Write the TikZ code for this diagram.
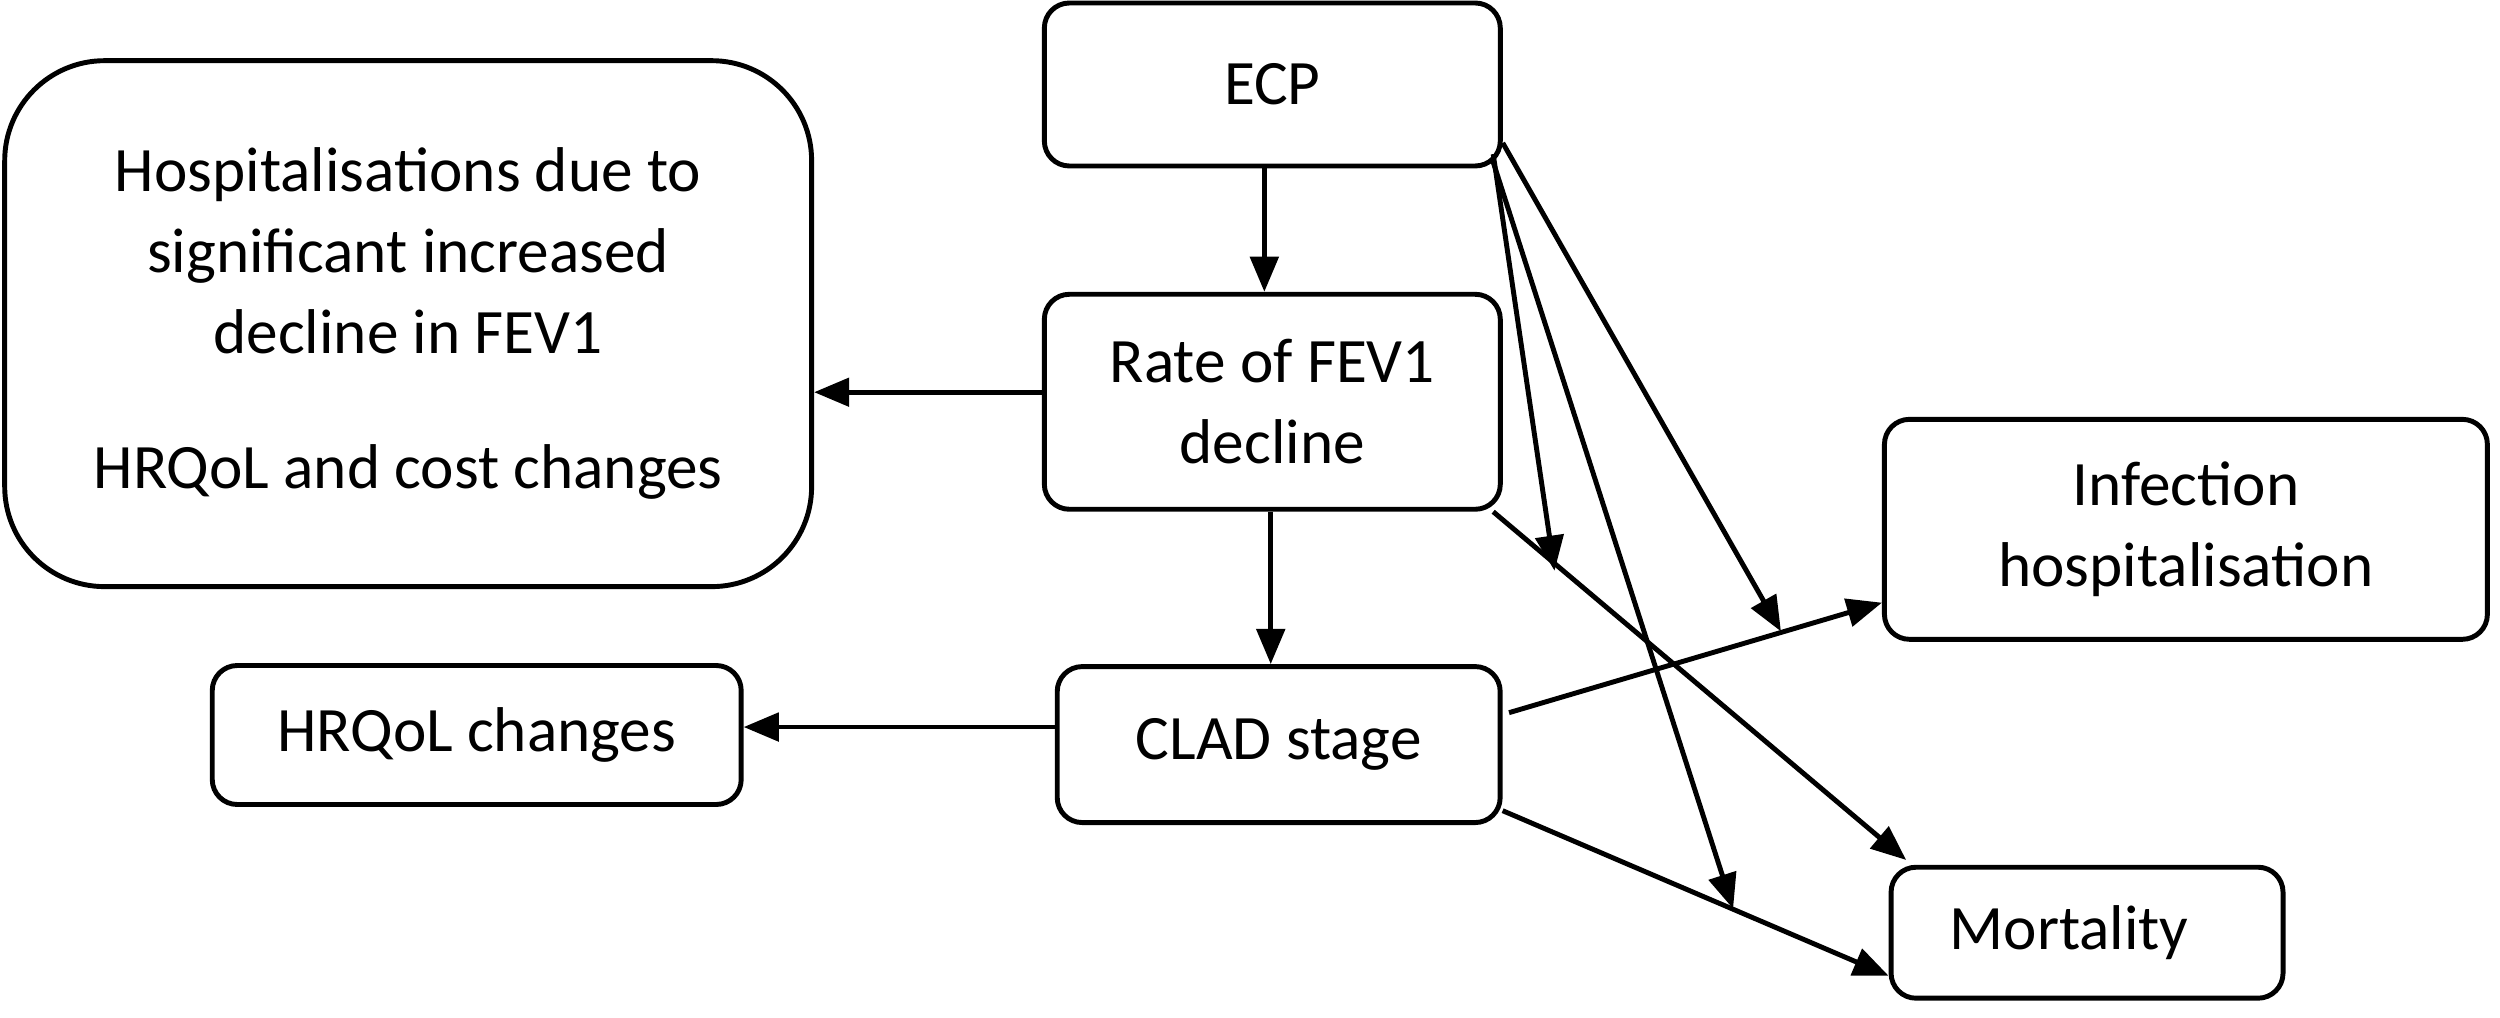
\documentclass[tikz,border=0pt]{standalone}
\usepackage{fontspec}
\setmainfont{Carlito}
\usetikzlibrary{arrows.meta,positioning,calc}

\begin{document}
\begin{tikzpicture}[x=0.01594cm, y=-0.01594cm,
        box/.style={rectangle, draw, line width=1.4pt, rounded corners=0.25cm, align=center,
                    font=\fontsize{18}{23}\selectfont},
        link/.style={-{Triangle[length=10pt,width=8pt]}, line width=1.4pt}
      ]
        \useasboundingbox (0,0) rectangle (1568,638);
        % boxes
        \node[box, minimum width=4.56cm, minimum height=1.63cm] (ecp) at (798,53) {ECP};
        \node[box, minimum width=8.07cm, minimum height=5.26cm, rounded corners=1cm] (hosp) at (256,203)
            {Hospitalisations due to\\significant increased\\decline in FEV1\\[0.55cm]HRQoL and cost changes};
        \node[box, minimum width=4.56cm, minimum height=2.15cm] (rate) at (798,252) {Rate of FEV1\\decline};
        \node[box, minimum width=6.03cm, minimum height=2.2cm] (inf) at (1371,332) {Infection\\hospitalisation};
        \node[box, minimum width=4.43cm, minimum height=1.56cm] (clad) at (802,467) {CLAD stage};
        \node[box, minimum width=5.29cm, minimum height=1.39cm] (hrqol) at (299,461) {HRQoL changes};
        \node[box, minimum width=3.92cm, minimum height=1.31cm, text width=2.75cm, align=left] (mort) at (1309,585) {Mortality};

        % free ends on the CLAD links
        \coordinate (onrate) at (975,358);
        \coordinate (oninf) at (1117,396);
        \coordinate (onmort) at (1087,570);

        \draw[link] (ecp.south -| 793,0) -- (rate.north -| 793,0);
        \draw[link] (rate.west |- 0,246) -- (hosp.east |- 0,246);
        \draw[link] (rate.south -| 797,0) -- (clad.north -| 797,0);
        \draw[link] (clad.west |- 0,456) -- (hrqol.east |- 0,456);
        \draw[link] ($(clad.east)+(4,-20)$) -- (inf.west |- 0,378);
        \draw[link] ($(clad.south east)+(0,-9)$) -- ($(mort.west)+(0,27)$);
        \draw[link] ($(ecp.south east)+(-6,-9)$) -- (onrate);
        \draw[link] ($(ecp.south east)+(-6,-4)$) -- (onmort);
        \draw[link] ($(ecp.south east)+(0,-16)$) -- (oninf);
        \draw[link] ($(rate.south east)+(-6,0)$) -- ($(mort.north west)+(11,-3)$);
      \end{tikzpicture}
\end{document}
